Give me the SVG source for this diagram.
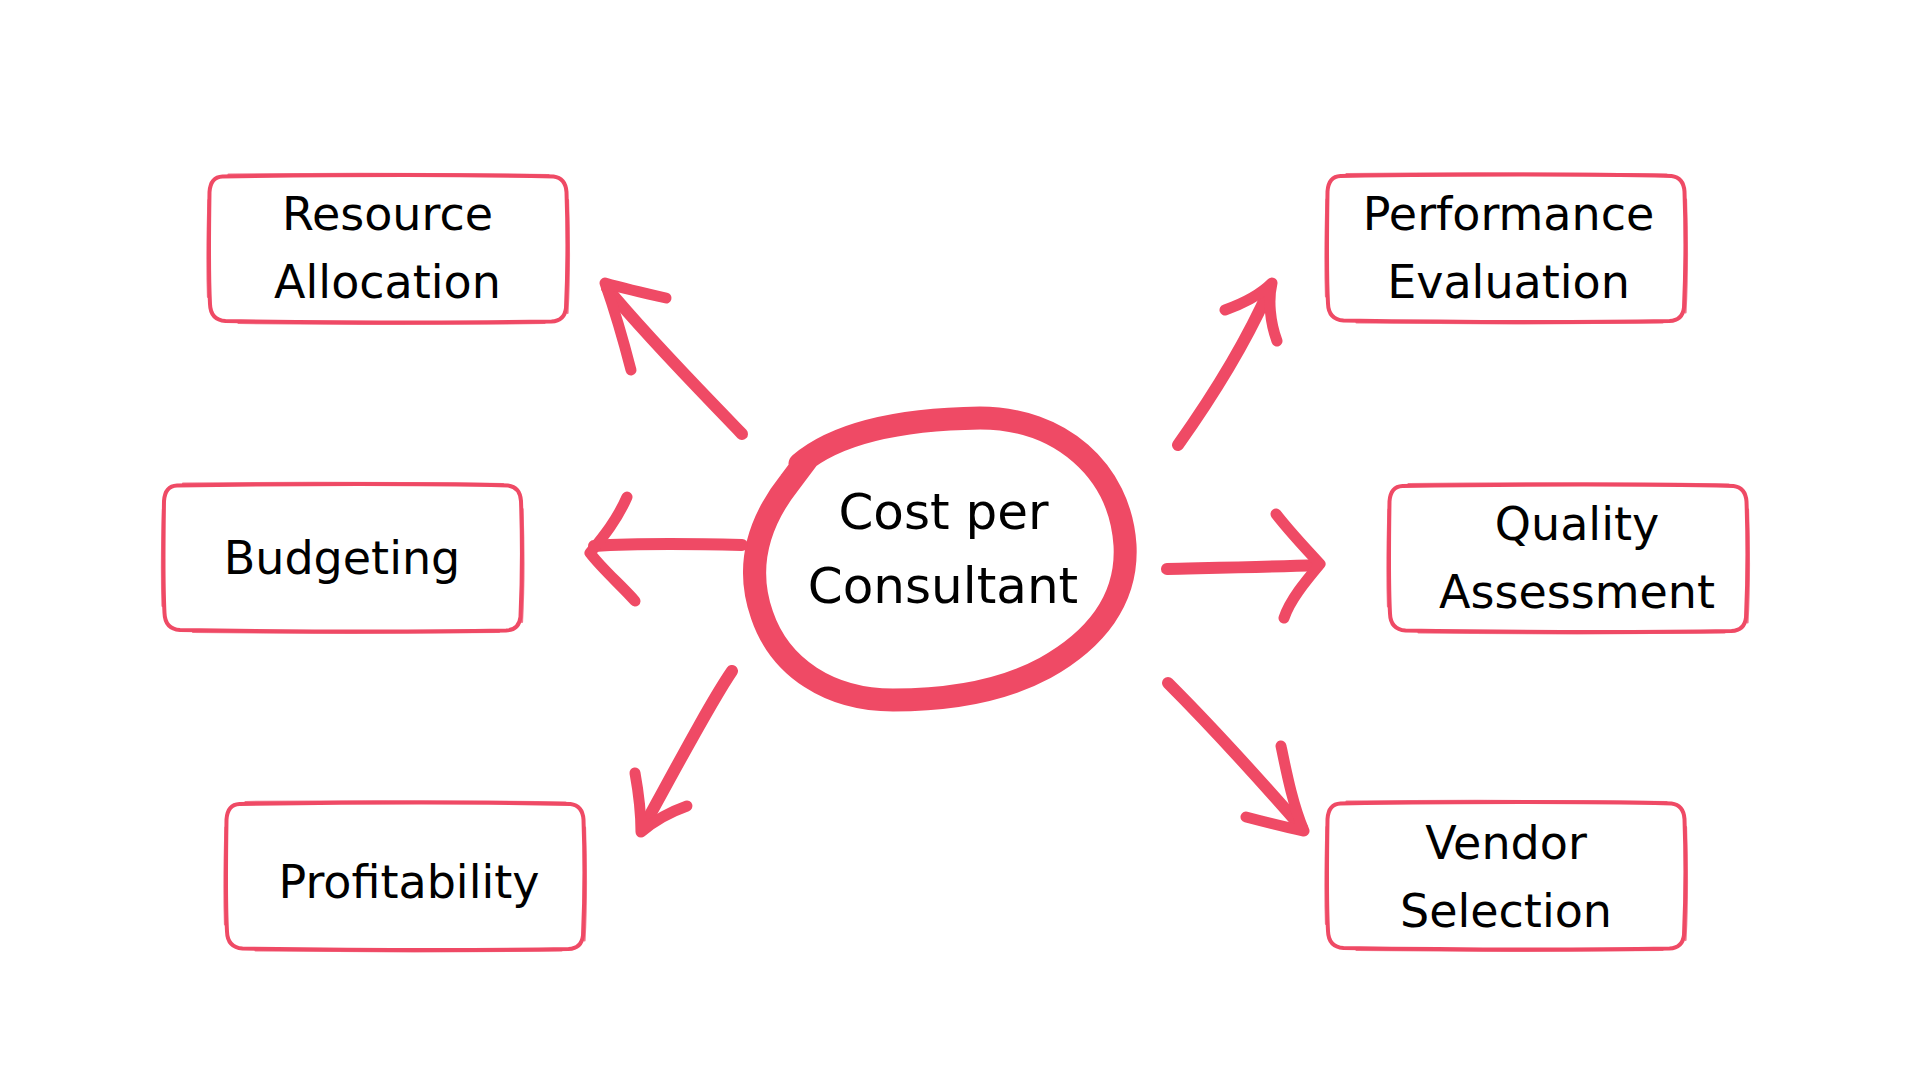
<svg xmlns="http://www.w3.org/2000/svg" xmlns:xlink="http://www.w3.org/1999/xlink" width="1920" height="1080" viewBox="0 0 1920 1080">
  <style>
    .bx { fill: #ffffff; stroke: #EF4A65; stroke-width: 4; stroke-linejoin: round; }
    .bx2 { fill: none; stroke: #EF4A65; stroke-width: 2.2; stroke-linecap: round; opacity: 0.75; }
    .lbl { font-family: "DejaVu Sans", "Liberation Sans", sans-serif; font-size: 46px; fill: #000000; text-anchor: middle; }
    .ctr { font-family: "DejaVu Sans", "Liberation Sans", sans-serif; font-size: 50px; fill: #000000; text-anchor: middle; }
    .ring { fill: none; stroke: #EF4A65; stroke-width: 23; stroke-linecap: round; stroke-linejoin: round; }
    .shaft { fill: none; stroke: #EF4A65; stroke-width: 12; stroke-linecap: round; stroke-linejoin: round; }
    .head { fill: none; stroke: #EF4A65; stroke-width: 11; stroke-linecap: round; stroke-linejoin: round; }
  </style>
  <defs>
    <g id="box">
      <path class="bx" d="M 14,1.5 C 120,0 250,-0.5 345,1.5 Q 357,3 358,17 C 359.5,60 359,100 357.5,133 Q 356,146 343,146.5 C 250,148 120,147.5 17,146 Q 2,145 1.5,129 C 0,100 0.5,50 1,17 Q 2,2 14,1.5 Z"/>
      <path class="bx2" d="M 20,-0.5 C 130,-1.5 250,-1 340,0 M 359.5,25 C 361,70 360.5,110 359,138 M 30,148 C 130,149 250,149 336,148 M -0.5,122 C -1.5,90 -1,55 0,25"/>
    </g>
  </defs>
  <rect width="1920" height="1080" fill="#ffffff"/>

  <g id="center">
    <path class="ring" d="M 800,464 C 840,430 910,419 980,418 C 1060,418 1120,470 1125,545 C 1128,600 1095,640 1045,668 C 995,695 935,700 893,700 C 830,700 780,668 762,615 C 748,575 752,530 790,482 L 808,458"/>
    <text class="ctr" x="943.5" y="529">Cost per</text>
    <text class="ctr" x="943" y="603">Consultant</text>
  </g>

  <g id="resource-allocation">
    <use xlink:href="#box" href="#box" transform="translate(208.5,175)"/>
    <text class="lbl" x="387.5" y="230">Resource</text>
    <text class="lbl" x="387.5" y="297.7">Allocation</text>
  </g>

  <g id="performance-evaluation">
    <use xlink:href="#box" href="#box" transform="translate(1326.5,174.5)"/>
    <text class="lbl" x="1508.5" y="230">Performance</text>
    <text class="lbl" x="1508.5" y="297.7">Evaluation</text>
  </g>

  <g id="budgeting">
    <use xlink:href="#box" href="#box" transform="translate(163,484)"/>
    <text class="lbl" x="342" y="574">Budgeting</text>
  </g>

  <g id="quality-assessment">
    <use xlink:href="#box" href="#box" transform="translate(1388.5,484.5)"/>
    <text class="lbl" x="1577" y="540">Quality</text>
    <text class="lbl" x="1577" y="607.7">Assessment</text>
  </g>

  <g id="profitability">
    <use xlink:href="#box" href="#box" transform="translate(225.5,802.5)"/>
    <text class="lbl" x="409" y="898">Profitability</text>
  </g>

  <g id="vendor-selection">
    <use xlink:href="#box" href="#box" transform="translate(1326.5,802)"/>
    <text class="lbl" x="1506" y="859.3">Vendor</text>
    <text class="lbl" x="1506" y="926.7">Selection</text>
  </g>

  <g id="connectors">
    <!-- to Resource Allocation -->
    <path class="shaft" d="M 742,434 C 700,390 650,340 607,288"/>
    <path class="head" d="M 666,298 C 648,294 626,289 605,283 C 612,303 622,335 631,370"/>
    <!-- to Performance Evaluation -->
    <path class="shaft" d="M 1178,445 C 1210,400 1245,345 1270,288"/>
    <path class="head" d="M 1225,310 C 1245,303 1260,295 1272,283 C 1268,300 1270,322 1277,341"/>
    <!-- to Budgeting -->
    <path class="shaft" d="M 742,545 C 700,544 640,543 594,546"/>
    <path class="head" d="M 627,497 C 617,520 603,537 590,553 C 603,570 622,586 635,601"/>
    <!-- to Quality Assessment -->
    <path class="shaft" d="M 1167,569 C 1210,568 1270,567 1318,565"/>
    <path class="head" d="M 1276,514 C 1290,532 1305,548 1320,564 C 1305,582 1290,600 1284,618"/>
    <!-- to Profitability -->
    <path class="shaft" d="M 732,671 C 712,700 680,760 643,828"/>
    <path class="head" d="M 635,773 C 639,795 641,815 641,832 C 655,820 670,812 687,806"/>
    <!-- to Vendor Selection -->
    <path class="shaft" d="M 1168,683 C 1215,730 1260,780 1302,828"/>
    <path class="head" d="M 1281,746 C 1287,775 1293,805 1304,831 C 1285,827 1265,822 1246,817"/>
  </g>
</svg>
